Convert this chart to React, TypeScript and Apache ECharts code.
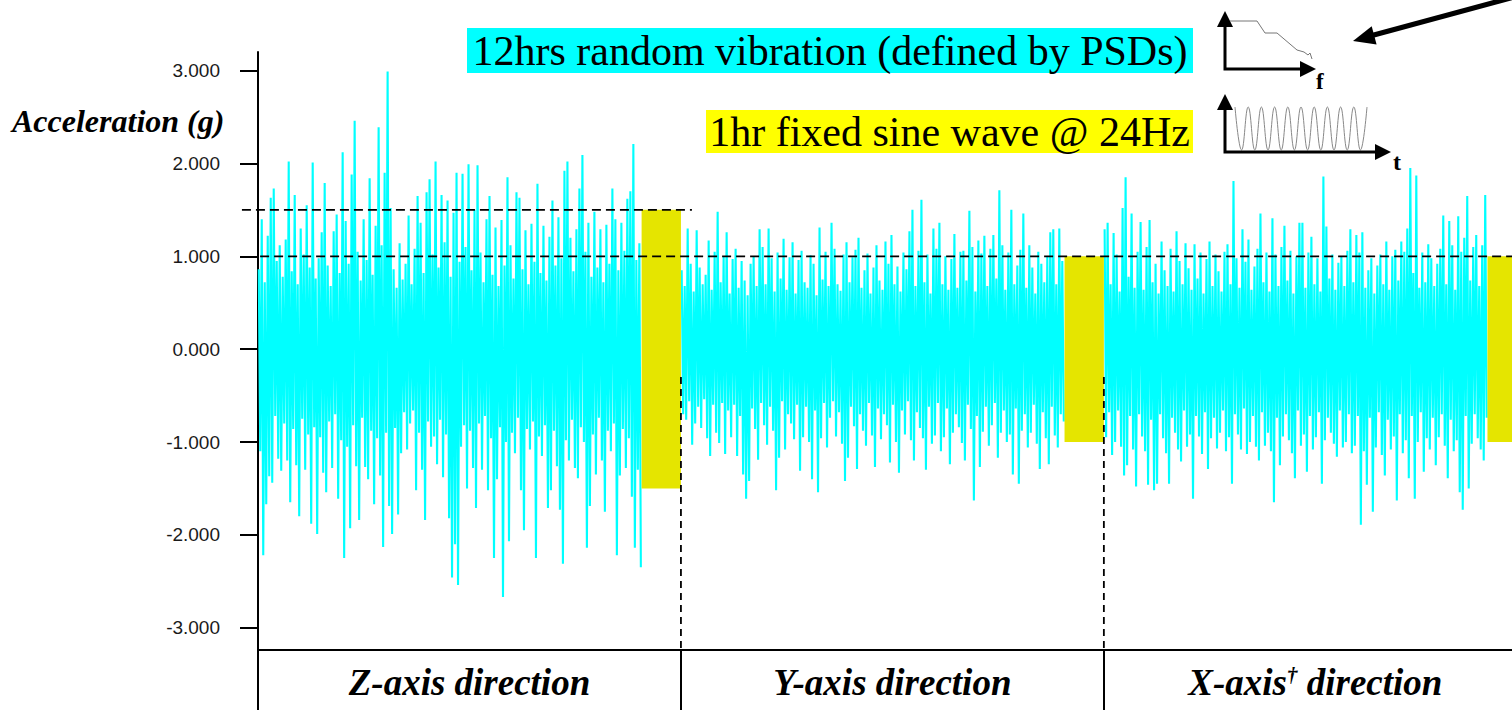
import React, { useEffect, useRef } from "react";
import * as echarts from "echarts";

// Test directions, one block of random vibration followed by a fixed sine dwell each
const DIRECTIONS = ["Z-axis direction", "Y-axis direction", "X-axis† direction"];
const Y_TICKS = [-3, -2, -1, 0, 1, 2, 3];
const SEGMENT_SPAN = 100; // axis units per direction
const RANDOM_SPAN = 90.7; // random-vibration share of a direction
const X_MAX = 296.5;
const Y_MIN = -3.24;
const Y_MAX = 3.2;
const SINE_AMPLITUDE = [1.5, 1.0, 1.0];

// Random vibration record, per time bin: peak (high) and trough (low) acceleration in g
const zHigh = [
  0.86, 1.4, 0.72, 1.22, 1.63, 1.73, 0.95, 1.12, 0.78, 1.18,
  2.02, 0.84, 1.66, 0.7, 1.3, 1.02, 1.55, 0.88, 2.01, 0.76,
  0.98, 1.26, 1.79, 0.9, 0.68, 1.27, 1.45, 0.82, 2.12, 1.38,
  0.92, 1.88, 2.46, 1.05, 0.74, 1.4, 0.96, 1.84, 0.8, 1.33,
  2.39, 1.12, 1.9, 2.99, 1.52, 0.86, 0.66, 1.14, 0.75, 0.92,
  1.44, 0.7, 1.08, 1.65, 1.36, 0.82, 1.69, 1.83, 1.02, 2.02,
  0.88, 1.66, 1.15, 1.6, 0.78, 1.47, 1.9, 0.94, 1.89, 1.1,
  1.99, 0.85, 1.5, 1.98, 1.04, 0.72, 1.4, 1.65, 0.8, 1.31,
  0.68, 1.39, 0.9, 1.85, 1.12, 0.76, 1.69, 1.63, 0.86, 1.28,
  0.7, 1.35, 0.94, 1.78, 0.82, 1.33, 0.74, 1.21, 1.6, 0.9,
  1.42, 0.98, 1.92, 2.02, 1.2, 0.84, 1.29, 1.73, 2.09, 1.05,
  1.36, 0.78, 1.48, 0.88, 1.29, 0.72, 1.34, 0.92, 1.73, 1.4,
  0.85, 1.36, 1.06, 1.62, 1.7, 2.21, 0.96, 1.14,
];
const zLow = [
  -1.1, -2.22, -1.67, -1.37, -1.44, -0.72, -1.18, -1.31, -0.8, -1.2,
  -1.65, -0.86, -1.25, -1.8, -0.75, -1.3, -0.92, -1.88, -0.84, -1.99,
  -0.95, -1.33, -1.54, -0.78, -1.28, -0.7, -1.61, -0.98, -2.25, -1.05,
  -1.93, -0.82, -1.26, -1.84, -0.74, -1.27, -1.4, -0.88, -1.67, -0.96,
  -1.36, -2.13, -0.9, -1.69, -1.99, -0.85, -1.78, -1.12, -0.68, -1.08,
  -0.8, -0.66, -1.52, -0.9, -1.3, -1.84, -0.78, -1.05, -0.94, -1.24,
  -0.76, -1.38, -0.92, -1.82, -2.46, -2.1, -2.54, -1.05, -0.82, -1.5,
  -0.88, -1.28, -1.71, -0.8, -1.3, -0.72, -1.52, -0.96, -2.25, -1.4,
  -0.84, -2.67, -1.0, -2.07, -0.9, -1.12, -0.74, -1.52, -1.95, -0.86,
  -1.08, -0.78, -2.25, -0.94, -1.15, -0.82, -1.71, -1.52, -0.88, -1.26,
  -1.73, -2.31, -0.98, -1.2, -0.76, -1.28, -1.39, -0.84, -1.0, -2.14,
  -1.69, -0.92, -1.35, -0.74, -1.2, -1.75, -0.88, -1.1, -0.8, -2.22,
  -1.36, -0.86, -1.28, -0.96, -1.59, -2.14, -1.3, -2.35,
];
const yHigh = [
  0.85, 0.68, 1.3, 0.92, 0.62, 1.28, 0.88, 0.7, 0.8, 1.17,
  0.64, 1.05, 1.48, 0.72, 1.0, 1.26, 0.6, 0.97, 1.08, 0.66,
  0.95, 0.74, 0.58, 0.92, 1.0, 0.68, 1.29, 1.1, 0.7, 1.3,
  0.98, 0.62, 1.04, 0.76, 1.19, 0.64, 0.99, 1.15, 0.6, 0.96,
  1.06, 0.72, 0.66, 1.01, 0.92, 0.58, 1.31, 0.75, 1.05, 0.68,
  1.36, 1.08, 0.7, 0.63, 1.02, 1.15, 0.72, 0.99, 1.07, 1.2,
  0.66, 0.85, 1.03, 0.6, 0.88, 1.12, 0.74, 0.64, 1.16, 0.92,
  1.23, 0.7, 0.89, 0.62, 1.04, 0.86, 1.27, 1.5, 0.68, 1.06,
  1.61, 0.72, 1.02, 0.6, 1.3, 1.08, 1.36, 0.7, 1.0, 0.64,
  0.97, 1.24, 0.66, 1.05, 1.06, 0.74, 1.49, 1.1, 0.62, 1.17,
  1.03, 1.22, 0.68, 1.08, 1.23, 0.76, 1.71, 1.12, 0.64, 1.04,
  1.5, 0.7, 0.9, 1.07, 1.46, 0.66, 1.12, 0.88, 0.6, 1.05,
  0.92, 0.72, 1.0, 1.26, 1.29, 0.7, 1.3, 0.95,
];
const yLow = [
  -0.7, -0.76, -0.56, -1.03, -0.8, -0.62, -0.85, -0.54, -0.96, -1.15,
  -0.6, -0.9, -1.01, -0.58, -1.13, -0.66, -0.95, -0.6, -1.15, -0.72,
  -1.35, -1.61, -1.42, -0.64, -0.86, -1.19, -0.58, -0.82, -1.03, -0.62,
  -0.88, -1.52, -1.17, -0.56, -1.08, -0.7, -0.8, -0.97, -0.6, -1.31,
  -0.95, -0.62, -1.0, -1.4, -0.66, -1.54, -0.96, -0.58, -1.06, -0.74,
  -0.56, -0.94, -0.68, -1.02, -1.42, -1.17, -0.62, -0.83, -1.29, -0.7,
  -0.88, -1.04, -0.58, -0.93, -1.27, -0.64, -0.97, -0.7, -0.82, -1.22,
  -0.6, -1.0, -1.33, -0.66, -0.92, -0.56, -0.98, -1.2, -0.68, -0.85,
  -0.96, -1.3, -0.62, -1.02, -0.93, -0.58, -1.1, -0.95, -0.64, -1.24,
  -0.9, -0.7, -0.84, -1.01, -1.2, -0.6, -0.86, -1.63, -0.72, -1.27,
  -0.89, -0.62, -1.04, -0.82, -0.58, -1.17, -0.9, -0.66, -1.0, -0.92,
  -1.35, -0.64, -1.45, -0.88, -0.7, -1.06, -0.9, -0.6, -1.02, -1.29,
  -0.68, -0.96, -1.24, -0.62, -0.93, -1.06, -0.7, -0.78,
];
const xHigh = [
  1.29, 1.36, 0.7, 1.25, 1.02, 0.62, 1.52, 1.85, 0.78, 1.46,
  0.66, 1.05, 1.37, 0.64, 1.1, 1.39, 0.72, 0.92, 0.6, 1.16,
  0.85, 0.68, 1.08, 0.62, 1.27, 0.95, 0.7, 1.14, 0.87, 0.64,
  1.13, 0.76, 1.04, 0.6, 0.97, 1.16, 0.68, 1.02, 0.84, 0.62,
  1.05, 1.13, 0.7, 1.81, 0.98, 0.66, 1.29, 0.94, 1.18, 0.64,
  0.89, 1.08, 1.46, 0.72, 1.04, 0.62, 1.41, 1.02, 0.68, 1.1,
  1.33, 0.74, 1.06, 0.6, 1.0, 1.36, 1.36, 0.66, 1.04, 1.21,
  0.7, 0.98, 0.62, 1.86, 1.32, 0.76, 1.02, 0.64, 0.93, 1.0,
  0.68, 1.06, 1.29, 0.72, 1.23, 1.04, 1.26, 0.66, 0.85, 0.98,
  0.6, 0.9, 1.02, 0.7, 1.16, 0.64, 1.0, 1.07, 0.74, 1.16,
  1.05, 1.3, 1.95, 0.82, 1.87, 0.66, 1.04, 0.72, 1.13, 0.98,
  0.68, 0.92, 1.08, 1.44, 0.7, 1.38, 1.12, 0.64, 1.43, 1.05,
  1.2, 1.65, 0.74, 1.1, 1.23, 0.68, 1.12, 1.66,
];
const xLow = [
  -0.95, -0.68, -1.14, -1.0, -0.66, -1.05, -1.36, -1.25, -0.72, -1.08,
  -1.48, -0.7, -0.94, -1.1, -1.46, -0.76, -1.52, -1.45, -0.7, -0.96,
  -1.12, -1.45, -0.74, -0.9, -1.08, -1.21, -0.66, -1.05, -0.92, -1.61,
  -0.72, -0.94, -1.13, -0.68, -1.29, -0.96, -0.74, -1.07, -0.9, -0.66,
  -1.1, -0.95, -1.45, -0.7, -0.92, -1.08, -0.64, -1.13, -1.0, -0.72,
  -1.05, -1.2, -0.68, -1.04, -0.9, -1.1, -1.65, -0.74, -1.25, -0.94,
  -0.7, -0.98, -1.12, -1.39, -0.66, -1.04, -0.92, -1.32, -0.72, -1.08,
  -0.95, -0.68, -1.45, -0.98, -0.74, -0.9, -1.02, -1.16, -0.66, -1.06,
  -1.0, -0.7, -1.12, -1.04, -0.72, -1.89, -1.1, -1.46, -0.74, -1.75,
  -1.06, -0.68, -1.14, -1.36, -0.76, -1.08, -0.94, -1.63, -0.7, -1.12,
  -0.98, -1.39, -0.72, -1.61, -1.0, -0.68, -1.32, -0.96, -1.08, -0.74,
  -1.25, -0.95, -0.7, -1.04, -1.39, -0.76, -1.1, -0.98, -1.54, -1.73,
  -0.72, -1.5, -1.02, -0.7, -0.96, -1.08, -1.2, -0.74,
];

// Reference levels: [xStart, xEnd, yStart, yEnd]
const LIMIT_LINES = [
  [-3.8, 102.6, 1.5, 1.5],
  [0.5, X_MAX, 1.0, 1.0],
];
const DIVIDER_LINES = [
  [100, 100, -0.3, Y_MIN],
  [200, 200, -0.3, Y_MIN],
];

const CYAN = "#00FFFF";
const SINE_YELLOW = "#E5E500";
const SERIF = '"Liberation Serif", "Times New Roman", serif';
const SANS = '"Liberation Sans", Arial, sans-serif';

// Peak/trough pairs become one continuous trace per direction
function buildTrace(k: number, lo: number[], hi: number[]) {
  const w = RANDOM_SPAN / hi.length;
  const pts: number[][] = [];
  hi.forEach((h, i) => {
    const x0 = k * SEGMENT_SPAN + i * w;
    pts.push([x0 + w * 0.25, h]);
    pts.push([x0 + w * 0.75, lo[i]]);
  });
  return pts;
}

function buildSineBlocks() {
  return SINE_AMPLITUDE.map((a, k) => [
    k * SEGMENT_SPAN + RANDOM_SPAN,
    (k + 1) * SEGMENT_SPAN,
    -a,
    a,
  ]);
}

function directionLabel(v: number) {
  const k = Math.round((v - SEGMENT_SPAN / 2) / SEGMENT_SPAN);
  const name = DIRECTIONS[k] || "";
  const dagger = name.indexOf("†");
  if (dagger >= 0) {
    return `{b|${name.slice(0, dagger)}}{s|†}{b|${name.slice(dagger + 1)}}`;
  }
  return `{b|${name}}`;
}

// Small sketch of a sine dwell for the legend icon
function sineIconPoints() {
  const pts: number[][] = [];
  const x0 = 1235;
  const half = 6.6;
  for (let k = 0; k <= 20; k++) {
    pts.push([x0 + k * half, k % 2 === 0 ? 107 : 150]);
  }
  return pts;
}

function buildOption(): echarts.EChartsOption {
  const rectItem = (fill: string) => (params: any, api: any) => {
    const a = api.coord([api.value(0), api.value(3)]);
    const b = api.coord([api.value(1), api.value(2)]);
    return {
      type: "rect",
      shape: { x: a[0], y: a[1], width: b[0] - a[0], height: b[1] - a[1] },
      style: { fill },
    };
  };
  const lineItem = (dash: number[]) => (params: any, api: any) => {
    const a = api.coord([api.value(0), api.value(2)]);
    const b = api.coord([api.value(1), api.value(3)]);
    return {
      type: "line",
      shape: { x1: a[0], y1: a[1], x2: b[0], y2: b[1] },
      style: { stroke: "#000", lineWidth: 1.8, lineDash: dash },
    };
  };

  const labelCenters = DIRECTIONS.map((_, k) => k * SEGMENT_SPAN + SEGMENT_SPAN / 2);
  const dividerTicks = DIRECTIONS.map((_, k) => k * SEGMENT_SPAN);
  const records = [
    [zLow, zHigh],
    [yLow, yHigh],
    [xLow, xHigh],
  ];

  const traces = records.map(([lo, hi], k) => ({
    type: "line" as const,
    name: DIRECTIONS[k],
    z: 2,
    silent: true,
    showSymbol: false,
    symbol: "none",
    clip: true,
    lineStyle: { color: CYAN, width: 2.1, join: "bevel" },
    data: buildTrace(k, lo, hi),
  }));

  return {
    animation: false,
    backgroundColor: "#ffffff",
    grid: {
      left: 258,
      right: 0,
      top: 52,
      bottom: 60,
      containLabel: false,
      outerBoundsMode: "none",
    } as any,
    xAxis: {
      type: "value",
      min: 0,
      max: X_MAX,
      position: "bottom",
      axisLine: { show: true, onZero: false, lineStyle: { color: "#000", width: 2 } },
      axisTick: {
        show: true,
        customValues: dividerTicks,
        length: 60,
        lineStyle: { color: "#000", width: 2 },
      } as any,
      axisLabel: {
        show: true,
        customValues: labelCenters,
        margin: 14,
        formatter: (v: number) => directionLabel(v),
        rich: {
          b: {
            fontFamily: SERIF,
            fontStyle: "italic",
            fontWeight: "bold",
            fontSize: 37,
            color: "#000",
          },
          s: {
            fontFamily: SERIF,
            fontStyle: "italic",
            fontWeight: "bold",
            fontSize: 21,
            color: "#000",
            verticalAlign: "top",
          },
        },
      } as any,
      splitLine: { show: false },
    },
    yAxis: {
      type: "value",
      min: Y_MIN,
      max: Y_MAX,
      axisLine: { show: true, onZero: false, lineStyle: { color: "#000", width: 2 } },
      axisTick: {
        show: true,
        customValues: Y_TICKS,
        length: 18,
        lineStyle: { color: "#000", width: 2 },
      } as any,
      axisLabel: {
        show: true,
        customValues: Y_TICKS,
        margin: 38,
        fontFamily: SANS,
        fontSize: 19,
        color: "#1a1a1a",
        formatter: (v: number) => v.toFixed(3),
      } as any,
      splitLine: { show: false },
    },
    series: [
      ...traces,
      {
        type: "custom",
        name: "sine dwell",
        z: 3,
        clip: true,
        silent: true,
        encode: { x: [0, 1], y: [2, 3] },
        data: buildSineBlocks(),
        renderItem: rectItem(SINE_YELLOW) as any,
      },
      {
        type: "custom",
        name: "limits",
        z: 5,
        clip: false,
        silent: true,
        encode: { x: [0, 1], y: [2, 3] },
        data: LIMIT_LINES,
        renderItem: lineItem([9, 5]) as any,
      },
      {
        type: "custom",
        name: "dividers",
        z: 5,
        clip: false,
        silent: true,
        encode: { x: [0, 1], y: [2, 3] },
        data: DIVIDER_LINES,
        renderItem: lineItem([7, 5]) as any,
      },
    ] as any,
    graphic: {
      elements: [
        {
          type: "text",
          x: 12,
          y: 121,
          style: {
            text: "Acceleration (g)",
            font: `italic bold 32px ${SERIF}`,
            fill: "#000",
            align: "left",
            verticalAlign: "middle",
            textAlign: "left",
            textVerticalAlign: "middle",
          } as any,
        },
        {
          type: "rect",
          shape: { x: 467, y: 28, width: 726, height: 45 },
          style: { fill: CYAN },
        },
        {
          type: "text",
          x: 830,
          y: 51,
          style: {
            text: "12hrs random vibration (defined by PSDs)",
            font: `42px ${SERIF}`,
            fill: "#000",
            align: "center",
            verticalAlign: "middle",
            textAlign: "center",
            textVerticalAlign: "middle",
          } as any,
        },
        {
          type: "rect",
          shape: { x: 706, y: 110, width: 487, height: 43 },
          style: { fill: "#FFFF00" },
        },
        {
          type: "text",
          x: 949.5,
          y: 132,
          style: {
            text: "1hr fixed sine wave @ 24Hz",
            font: `42px ${SERIF}`,
            fill: "#000",
            align: "center",
            verticalAlign: "middle",
            textAlign: "center",
            textVerticalAlign: "middle",
          } as any,
        },
        // PSD icon
        {
          type: "polyline",
          shape: { points: [[1225, 22], [1225, 69], [1304, 69]] },
          style: { stroke: "#000", lineWidth: 3, fill: "none" },
        },
        {
          type: "polygon",
          shape: { points: [[1225, 11], [1217, 27], [1233, 27]] },
          style: { fill: "#000" },
        },
        {
          type: "polygon",
          shape: { points: [[1316, 69], [1300, 61], [1300, 77]] },
          style: { fill: "#000" },
        },
        {
          type: "polyline",
          shape: {
            points: [
              [1230, 21], [1257, 21], [1265, 33], [1277, 33], [1297, 50],
              [1304, 52], [1308, 55], [1310, 53], [1312, 59],
            ],
          },
          style: { stroke: "#777", lineWidth: 1, fill: "none" },
        },
        {
          type: "text",
          x: 1316,
          y: 93,
          style: {
            text: "f",
            font: `bold 23px ${SERIF}`,
            fill: "#000",
            align: "left",
            verticalAlign: "bottom",
            textAlign: "left",
            textVerticalAlign: "bottom",
          } as any,
        },
        // sine icon
        {
          type: "polyline",
          shape: { points: sineIconPoints(), smooth: 0.45 },
          style: { stroke: "#888", lineWidth: 1, fill: "none" },
        },
        {
          type: "polyline",
          shape: { points: [[1225, 108], [1225, 152], [1377, 152]] },
          style: { stroke: "#000", lineWidth: 3, fill: "none" },
        },
        {
          type: "polygon",
          shape: { points: [[1225, 94], [1217, 110], [1233, 110]] },
          style: { fill: "#000" },
        },
        {
          type: "polygon",
          shape: { points: [[1391, 152], [1375, 144], [1375, 160]] },
          style: { fill: "#000" },
        },
        {
          type: "text",
          x: 1393,
          y: 174,
          style: {
            text: "t",
            font: `bold 24px ${SERIF}`,
            fill: "#000",
            align: "left",
            verticalAlign: "bottom",
            textAlign: "left",
            textVerticalAlign: "bottom",
          } as any,
        },
        // pointer arrow
        {
          type: "line",
          shape: { x1: 1514, y1: -3, x2: 1372, y2: 35.5 },
          style: { stroke: "#000", lineWidth: 5 },
        },
        {
          type: "polygon",
          shape: { points: [[1353, 41], [1376.6, 44.5], [1371.7, 26.2]] },
          style: { fill: "#000" },
        },
      ],
    } as any,
  };
}

export default function App() {
  const ref = useRef<HTMLDivElement>(null);
  useEffect(() => {
    if (!ref.current) return;
    const chart = echarts.init(ref.current, null, { renderer: "svg" });
    chart.setOption(buildOption());
    return () => {
      chart.dispose();
    };
  }, []);
  return (
    <div
      ref={ref}
      style={{
        position: "fixed",
        left: 0,
        top: 0,
        width: 1512,
        height: 710,
        background: "#ffffff",
      }}
    />
  );
}
